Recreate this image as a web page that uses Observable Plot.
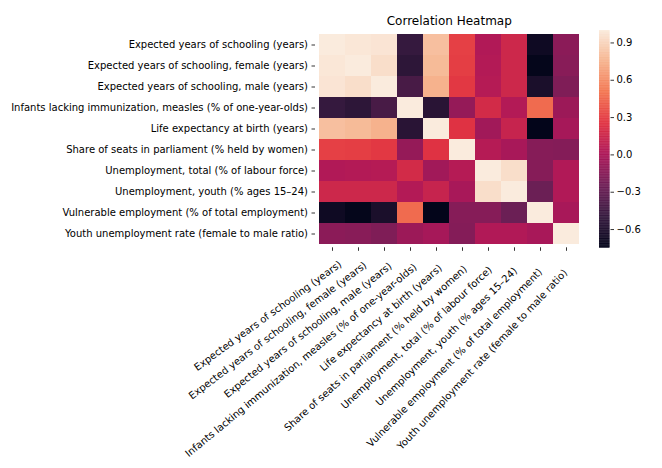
<!DOCTYPE html>
<html>
<head>
<meta charset="utf-8">
<script src="https://cdn.jsdelivr.net/npm/d3@7"></script>
<script src="https://cdn.jsdelivr.net/npm/@observablehq/plot@0.6"></script>
<style>
  html, body { margin: 0; padding: 0; background: #fff; }
  #wrap { position: relative; width: 662px; height: 468px; font-family: "DejaVu Sans", sans-serif; }
  #wrap svg { position: absolute; top: 0; overflow: visible; }
</style>
</head>
<body>
<div id="wrap"></div>
<script>
const labels = [
  "Expected years of schooling (years)",
  "Expected years of schooling, female (years)",
  "Expected years of schooling, male (years)",
  "Infants lacking immunization, measles (% of one-year-olds)",
  "Life expectancy at birth (years)",
  "Share of seats in parliament (% held by women)",
  "Unemployment, total (% of labour force)",
  "Unemployment, youth (% ages 15–24)",
  "Vulnerable employment (% of total employment)",
  "Youth unemployment rate (female to male ratio)"
];

const rowSchooling       = [ 1.00,  0.98,  0.97, -0.50,  0.80,  0.30,  0.02,  0.15, -0.69, -0.14];
const rowSchoolingFemale = [ 0.98,  1.00,  0.94, -0.54,  0.78,  0.29,  0.03,  0.15, -0.74, -0.15];
const rowSchoolingMale   = [ 0.97,  0.94,  1.00, -0.42,  0.74,  0.27,  0.04,  0.15, -0.63, -0.19];
const rowImmunization    = [-0.50, -0.54, -0.42,  1.00, -0.56, -0.10,  0.18,  0.03,  0.46, -0.07];
const rowLifeExpectancy  = [ 0.80,  0.78,  0.74, -0.56,  1.00,  0.24, -0.05,  0.12, -0.75, -0.03];
const rowParliament      = [ 0.30,  0.29,  0.27, -0.10,  0.24,  1.00,  0.04, -0.02, -0.16, -0.17];
const rowUnempTotal      = [ 0.02,  0.03,  0.04,  0.18, -0.05,  0.04,  1.00,  0.94, -0.16,  0.02];
const rowUnempYouth      = [ 0.15,  0.15,  0.15,  0.03,  0.12, -0.02,  0.94,  1.00, -0.27,  0.02];
const rowVulnerable      = [-0.69, -0.74, -0.63,  0.46, -0.75, -0.16, -0.16, -0.27,  1.00, -0.02];
const rowYouthRatio      = [-0.14, -0.15, -0.19, -0.07, -0.03, -0.17,  0.02,  0.02, -0.02,  1.00];

const corr = [rowSchooling, rowSchoolingFemale, rowSchoolingMale, rowImmunization,
  rowLifeExpectancy, rowParliament, rowUnempTotal, rowUnempYouth, rowVulnerable, rowYouthRatio];

const colorbarTicks = [-0.6, -0.3, 0.0, 0.3, 0.6, 0.9];

// seaborn "rocket" colormap stops
const rocket = ["#03051a", "#35193e", "#701f57", "#ad1759", "#e13342", "#f37651", "#f6b48f", "#faebdd"];
const interp = d3.piecewise(d3.interpolateRgb, rocket);

const cells = [];
corr.forEach((row, i) => row.forEach((v, j) => cells.push({row: labels[i], col: labels[j], value: v})));
const vmin = d3.min(cells, d => d.value), vmax = d3.max(cells, d => d.value);
const colorScale = {type: "linear", domain: [vmin, vmax], interpolate: () => interp};

const font = "DejaVu Sans, sans-serif";
const baseStyle = {fontFamily: font, fontSize: "10px", color: "black", background: "transparent"};

const main = Plot.plot({
  width: 662,
  height: 468,
  marginLeft: 315,
  marginRight: 79.5,
  marginTop: 30,
  marginBottom: 220.7,
  style: baseStyle,
  x: {domain: labels, padding: 0, label: null},
  y: {domain: labels, padding: 0, label: null},
  color: colorScale,
  marks: [
    Plot.cell(cells, {x: "col", y: "row", fill: "value", inset: 0, shapeRendering: "crispEdges"}),
    Plot.axisX({anchor: "bottom", tickSize: 3.5, tickFormat: () => "", label: null, stroke: "black", strokeWidth: 0.8}),
    Plot.axisY({anchor: "left", tickSize: 3.5, tickPadding: 4, fontSize: 10, label: null, fill: "black", stroke: "black", strokeWidth: 0.8}),
    Plot.text(["Correlation Heatmap"], {frameAnchor: "top", dy: -6, lineAnchor: "bottom", fontSize: 12, fill: "black", text: d => d})
  ]
});

// rotated column labels (overlay with its own point scale)
const xLabels = Plot.plot({
  width: 662,
  height: 468,
  margin: 0,
  style: baseStyle,
  x: {type: "point", domain: labels, range: [325.6, 579.7], axis: null},
  y: {type: "linear", domain: [0, labels.length - 1], range: [262.6, 270.5], axis: null},
  marks: [
    Plot.text(labels, {
      x: d => d,
      y: (d, i) => i,
      rotate: (d, i) => -(36 + 1.2 * i),
      textAnchor: "end",
      lineAnchor: "middle",
      fontSize: 10,
      fill: "black"
    })
  ]
});

const step = 0.005;
const bar = d3.range(vmin, vmax, step).map(v => ({v, v2: Math.min(vmax, v + step * 1.6)}));

const cbar = Plot.plot({
  width: 72,
  height: 468,
  marginLeft: 9,
  marginRight: 52.5,
  marginTop: 30,
  marginBottom: 220.3,
  style: baseStyle,
  x: {domain: [0, 1], axis: null},
  y: {domain: [vmin, vmax], ticks: colorbarTicks, label: null},
  color: colorScale,
  marks: [
    Plot.rect(bar, {x1: 0, x2: 1, y1: "v", y2: "v2", fill: "v"}),
    Plot.axisY({anchor: "right", ticks: colorbarTicks, tickFormat: d3.format(".1f"), tickSize: 3.5, tickPadding: 3, fontSize: 10, label: null, fill: "black", stroke: "black", strokeWidth: 0.8})
  ]
});
main.style.left = "0px";
xLabels.style.left = "0px";
cbar.style.left = "590px";

const wrap = document.getElementById("wrap");
wrap.appendChild(main);
wrap.appendChild(xLabels);
wrap.appendChild(cbar);
</script>
</body>
</html>
